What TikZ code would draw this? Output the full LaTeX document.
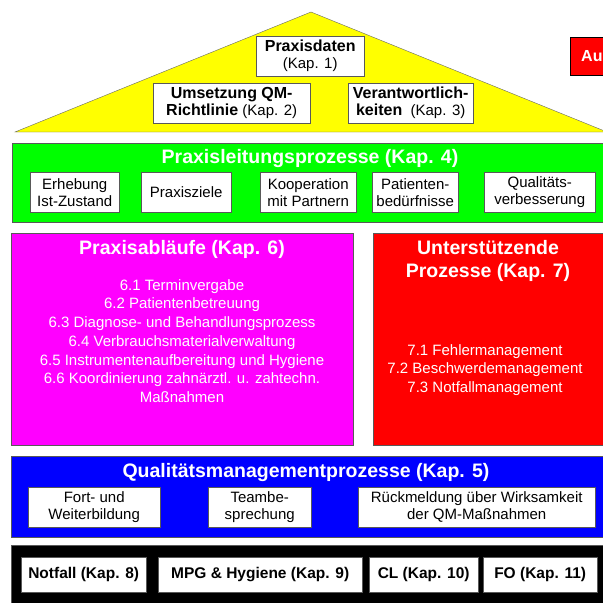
\documentclass[tikz,border=0pt]{standalone}
\usepackage{fontspec}
\setmainfont{Liberation Sans}
\definecolor{roofYellow}{RGB}{255,255,0}
\definecolor{leitGreen}{RGB}{0,255,0}
\definecolor{ablaufMagenta}{RGB}{255,0,255}
\definecolor{stuetzRed}{RGB}{255,0,0}
\definecolor{qmBlue}{RGB}{0,0,255}
\newcommand{\roofbf}[1]{{\fontsize{16}{17}\selectfont\bfseries #1}}
\tikzset{
band/.style    = {draw=black!65, rectangle, anchor=north west, inner sep=0pt},
block/.style   = {draw=black!65, fill=white, rectangle, anchor=north west, inner sep=0pt, align=center, font=\fontsize{15}{17}\selectfont},
keyblock/.style = {block, font=\fontsize{15.5}{17}\selectfont\bfseries},
heading/.style = {text=white, inner sep=0pt, align=center, font=\fontsize{19.5}{23}\selectfont\bfseries},
itemlist/.style = {text=white, inner sep=0pt, align=center, font=\fontsize{15}{18.7}\selectfont},}

\begin{document}
\begin{tikzpicture}[x=1pt, y=-1pt]
    \useasboundingbox (0,0) rectangle (603,603);
    \clip (0,0) rectangle (603,603);
    \draw[fill=roofYellow, draw=black!60] (15,132) -- (311,12) -- (607,132) -- cycle;
    \node[block, minimum width=108, minimum height=40] (daten) at (256,36) {\roofbf{Praxisdaten}\\(Kap. 1)};
    \node[block, minimum width=157, minimum height=40] (richtlinie) at (153,83) {\roofbf{Umsetzung QM-}\\\roofbf{Richtlinie} (Kap. 2)};
    \node[block, minimum width=125, minimum height=40] (verantw) at (348,83) {\roofbf{Verantwortlich-}\\\roofbf{keiten}\ \ (Kap. 3)};
    \node[band, draw=black, line width=1.2pt, fill=stuetzRed, minimum width=60, minimum height=38] (aus) at (570,37) {};
    \node[anchor=west, inner sep=0pt, text=white, font=\fontsize{16}{20}\selectfont\bfseries] (ausText) at (581,56) {Au};

    \node[band, fill=leitGreen, minimum width=595, minimum height=79] (leitung) at (12,143) {};
    \node[heading] (leitungTitle) at (310,158) {Praxisleitungsprozesse (Kap. 4)};
    \node[block, minimum width=89, minimum height=40] (erhebung) at (30,172) {Erhebung\\Ist-Zustand};
    \node[block, minimum width=90, minimum height=40] (ziele) at (141,172) {Praxisziele};
    \node[block, minimum width=96, minimum height=40] (koop) at (260,172) {Kooperation\\mit Partnern};
    \node[block, minimum width=86, minimum height=40] (patient) at (372,172) {Patienten-\\bedürfnisse};
    \node[block, minimum width=111, minimum height=40] (verbess) at (484,172) {Qualitäts-\\verbesserung};

    \node[band, fill=ablaufMagenta, minimum width=342, minimum height=212] (ablauf) at (11,233) {};
    \node[heading] (ablaufTitle) at (182,249) {Praxisabläufe (Kap. 6)};
    \node[itemlist] (ablaufItems) at (182,341) {6.1 Terminvergabe\\6.2 Patientenbetreuung\\6.3 Diagnose- und Behandlungsprozess\\6.4 Verbrauchsmaterialverwaltung\\6.5 Instrumentenaufbereitung und Hygiene\\6.6 Koordinierung zahnärztl. u. zahtechn.\\Maßnahmen};
    \node[band, fill=stuetzRed, minimum width=234, minimum height=212] (stuetz) at (373,233) {};
    \node[heading] (stuetzTitle) at (488,261) {Unterstützende\\Prozesse (Kap. 7)};
    \node[itemlist] (stuetzItems) at (485,370) {7.1 Fehlermanagement\\7.2 Beschwerdemanagement\\7.3 Notfallmanagement};

    \node[band, fill=qmBlue, minimum width=596, minimum height=81] (qm) at (11,456) {};
    \node[heading] (qmTitle) at (306,472) {Qualitätsmanagementprozesse (Kap. 5)};
    \node[block, minimum width=132, minimum height=40] (fortbild) at (28,487) {Fort- und\\Weiterbildung};
    \node[block, minimum width=103, minimum height=40] (team) at (208,487) {Teambe-\\sprechung};
    \node[block, minimum width=237, minimum height=40] (rueck) at (358,487) {Rückmeldung über Wirksamkeit\\der QM-Maßnahmen};

    \node[band, fill=black, minimum width=596, minimum height=62] (basis) at (11,545) {};
    \node[keyblock, minimum width=125, minimum height=35] (notfall) at (21,557) {Notfall (Kap. 8)};
    \node[keyblock, minimum width=204, minimum height=35] (mpg) at (158,557) {MPG \& Hygiene (Kap. 9)};
    \node[keyblock, minimum width=109, minimum height=35] (cl) at (369,557) {CL (Kap. 10)};
    \node[keyblock, minimum width=114, minimum height=35] (fo) at (483,557) {FO (Kap. 11)};
\end{tikzpicture}
\end{document}
